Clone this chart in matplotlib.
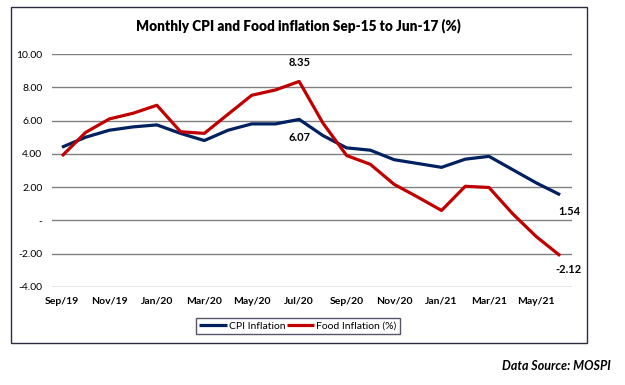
import matplotlib
matplotlib.use("Agg")
import matplotlib.pyplot as plt
from matplotlib.patches import Rectangle

plt.rcParams['font.family'] = ['Lato', 'DejaVu Sans']

# data
months = ["Sep/19", "Oct/19", "Nov/19", "Dec/19", "Jan/20", "Feb/20", "Mar/20", "Apr/20",
          "May/20", "Jun/20", "Jul/20", "Aug/20", "Sep/20", "Oct/20", "Nov/20", "Dec/20",
          "Jan/21", "Feb/21", "Mar/21", "Apr/21", "May/21", "Jun/21"]
cpi = [4.40, 5.00, 5.42, 5.62, 5.74, 5.23, 4.80, 5.42, 5.80, 5.80, 6.07, 5.10,
       4.36, 4.22, 3.65, 3.42, 3.19, 3.68, 3.85, 3.05, 2.25, 1.54]
food = [3.87, 5.29, 6.10, 6.44, 6.92, 5.33, 5.23, 6.38, 7.52, 7.84, 8.35, 5.85,
        3.90, 3.37, 2.17, 1.40, 0.60, 2.05, 1.98, 0.40, -0.98, -2.12]
yticks = [-4, -2, 0, 2, 4, 6, 8, 10]
ytick_labels = ["-4.00", "-2.00", "-", "2.00", "4.00", "6.00", "8.00", "10.00"]

blue = "#002060"
red = "#c00000"

fig = plt.figure(figsize=(6.25, 3.85), dpi=100)
fig.patches.append(Rectangle((11/625, 1-343/385), 576/625, 336/385, transform=fig.transFigure,
                             fill=False, edgecolor="#2e2a40", linewidth=1.0))

ax = fig.add_axes([52/625, 1-287/385, 520/625, 233/385])
x = list(range(len(months)))
ax.plot(x, cpi, color=blue, linewidth=2.3, label="CPI Inflation", solid_capstyle="butt")
ax.plot(x, food, color=red, linewidth=2.3, label="Food Inflation (%)", solid_capstyle="butt")

ax.set_ylim(-4, 10)
ax.set_xlim(-0.42, 21.5)
ax.set_yticks(yticks)
ax.set_yticklabels(ytick_labels)
ax.set_xticks(x[::2])
ax.set_xticklabels(months[::2], fontweight="bold")
ax.tick_params(axis="both", length=0, labelsize=7.5, colors="black")
ax.tick_params(axis="y", pad=7)
ax.tick_params(axis="x", pad=7)
ax.yaxis.grid(True, color="#808080", linewidth=1.0)
ax.set_axisbelow(True)
for s in ax.spines.values():
    s.set_visible(False)

# data labels
lab = dict(fontsize=8, fontweight="bold", ha="center", va="center")
ax.annotate(f"{food[10]:.2f}", (10, food[10]), xytext=(0, 14), textcoords="offset points", **lab)
ax.annotate(f"{cpi[10]:.2f}", (10, cpi[10]), xytext=(0, -13), textcoords="offset points", **lab)
ax.annotate(f"{cpi[-1]:.2f}", (21, cpi[-1]), xytext=(7, -12), textcoords="offset points", **lab)
ax.annotate(f"{food[-1]:.2f}", (21, food[-1]), xytext=(6, -10), textcoords="offset points", **lab)

fig.text(0.478, 1-26/385, "Monthly CPI and Food inflation Sep-15 to Jun-17 (%)",
         ha="center", va="center", fontsize=9.8, fontweight="heavy")

leg = fig.legend(loc="center", bbox_to_anchor=(298/625, 1-326/385), ncol=2, fontsize=7.5,
                 frameon=True, fancybox=False, edgecolor="#2e2a40", handlelength=2.6,
                 handletextpad=0.2, columnspacing=0.2, borderpad=0.3)
leg.get_frame().set_linewidth(1.0)

fig.text(611/625, 1-366/385, "Data Source: MOSPI", ha="right", va="center",
         fontsize=9, fontweight="bold", fontstyle="italic")

fig.savefig("out.png", dpi=100)
